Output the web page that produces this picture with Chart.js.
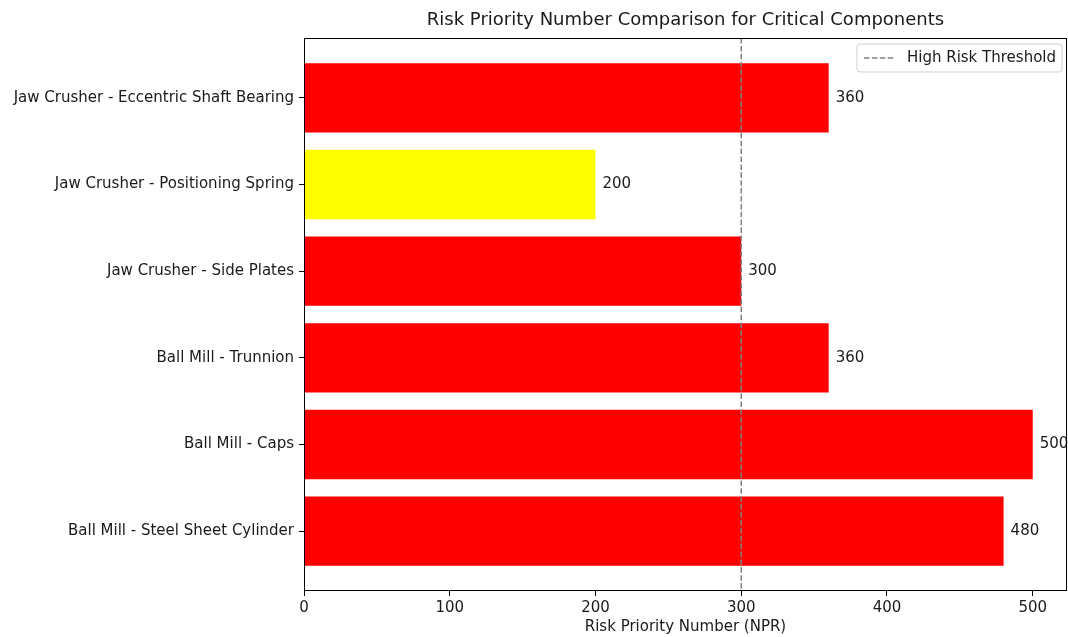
<!DOCTYPE html>
<html>
<head>
<meta charset="utf-8">
<script src="https://cdn.jsdelivr.net/npm/chart.js@4/dist/chart.umd.min.js"></script>
<style>
  html, body { margin: 0; padding: 0; background: #fff; }
  #wrap { width: 1068px; height: 637px; position: relative; }
</style>
</head>
<body>
<div id="wrap"><canvas id="rpnChart"></canvas></div>
<script>
  const components = [
    'Jaw Crusher - Eccentric Shaft Bearing',
    'Jaw Crusher - Positioning Spring',
    'Jaw Crusher - Side Plates',
    'Ball Mill - Trunnion',
    'Ball Mill - Caps',
    'Ball Mill - Steel Sheet Cylinder'
  ];
  const rpnValues = [360, 200, 300, 360, 500, 480];
  const riskThreshold = 300;
  const xTickValues = [0, 100, 200, 300, 400, 500];
  const thresholdLabel = 'High Risk Threshold';
  const chartTitle = 'Risk Priority Number Comparison for Critical Components';

  const FONT = 'DejaVu Sans';
  const TEXT = '#1a1a1a';

  // bars at/over threshold are red, the rest yellow
  const barColors = rpnValues.map(v => v >= riskThreshold ? '#ff0000' : '#ffff00');

  const yMin = -0.69, yMax = components.length - 1 + 0.69;

  // title over the axes, frame, value labels and in-axes legend
  const extras = {
    id: 'extras',
    afterDatasetsDraw(chart) {
      const { ctx, chartArea: a } = chart;
      const meta = chart.getDatasetMeta(1);
      ctx.save();

      ctx.font = `18px "${FONT}"`;
      ctx.fillStyle = TEXT;
      ctx.textAlign = 'center';
      ctx.textBaseline = 'middle';
      ctx.fillText(chartTitle, (a.left + a.right) / 2, a.top - 18);

      ctx.font = `15px "${FONT}"`;
      ctx.textAlign = 'left';
      meta.data.forEach((bar, i) => {
        ctx.fillText(String(rpnValues[i]), bar.x + 7, bar.y);
      });

      // spines
      ctx.strokeStyle = '#000';
      ctx.lineWidth = 1;
      ctx.strokeRect(a.left + 0.5, a.top + 0.5, a.right - a.left - 1, a.bottom - a.top - 1);

      // legend
      const ds = chart.data.datasets[0];
      const tw = ctx.measureText(ds.label).width;
      const w = 8 + 30 + 12 + tw + 6;
      const h = 28;
      const x = a.right - 5 - w;
      const y = a.top + 6;
      ctx.beginPath();
      ctx.roundRect(x, y, w, h, 3);
      ctx.fillStyle = 'rgba(255,255,255,0.8)';
      ctx.fill();
      ctx.strokeStyle = '#d0d0d0';
      ctx.lineWidth = 1;
      ctx.stroke();
      ctx.beginPath();
      ctx.setLineDash(ds.borderDash);
      ctx.strokeStyle = ds.borderColor;
      ctx.lineWidth = ds.borderWidth;
      ctx.moveTo(x + 7, y + h / 2);
      ctx.lineTo(x + 37, y + h / 2);
      ctx.stroke();
      ctx.setLineDash([]);
      ctx.fillStyle = TEXT;
      ctx.fillText(ds.label, x + 50, y + h / 2 + 0.5);
      ctx.restore();
    }
  };

  new Chart(document.getElementById('rpnChart'), {
    data: {
      datasets: [
        {
          type: 'line',
          label: thresholdLabel,
          data: [{ x: riskThreshold, y: yMin }, { x: riskThreshold, y: yMax }],
          borderColor: '#808080',
          borderDash: [5.5, 2.4],
          borderWidth: 1.5,
          pointRadius: 0,
          order: 0
        },
        {
          type: 'bar',
          label: 'RPN',
          data: rpnValues.map((v, i) => ({ x: v, y: i })),
          backgroundColor: barColors,
          borderWidth: 0,
          categoryPercentage: 1,
          barPercentage: 0.8,
          order: 1
        }
      ]
    },
    options: {
      indexAxis: 'y',
      responsive: true,
      maintainAspectRatio: false,
      animation: false,
      layout: { padding: { left: 0, right: 1, top: 38, bottom: 0 } },
      scales: {
        x: {
          type: 'linear',
          min: 0,
          max: 523.5,
          afterBuildTicks: (s) => { s.ticks = xTickValues.map(v => ({ value: v })); },
          afterFit: (s) => { s.height = 46; },
          grid: { drawOnChartArea: false, tickLength: 5, color: '#000', tickColor: '#000' },
          border: { display: false },
          ticks: { color: TEXT, font: { family: FONT, size: 15 }, padding: 3, maxRotation: 0 },
          title: {
            display: true,
            text: 'Risk Priority Number (NPR)',
            color: TEXT,
            font: { family: FONT, size: 15 },
            padding: { top: 1, bottom: 1 }
          }
        },
        y: {
          type: 'linear',
          reverse: true,
          offset: false,
          min: yMin,
          max: yMax,
          afterBuildTicks: (s) => { s.ticks = components.map((_, i) => ({ value: i })); },
          afterFit: (s) => { s.width = 304; },
          grid: { offset: false, drawOnChartArea: false, tickLength: 5, color: '#000', tickColor: '#000' },
          border: { display: false },
          ticks: {
            color: TEXT,
            font: { family: FONT, size: 15 },
            padding: 5,
            callback: (v) => components[v]
          }
        }
      },
      plugins: {
        legend: { display: false },
        tooltip: { enabled: false },
        title: { display: false }
      }
    },
    plugins: [extras]
  });
</script>
</body>
</html>
